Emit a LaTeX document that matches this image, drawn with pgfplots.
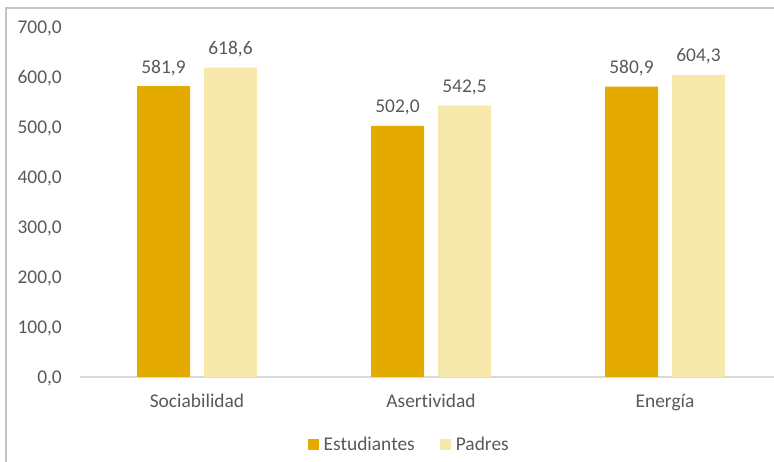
\documentclass[border=0pt]{standalone}
\usepackage{fontspec}
\setmainfont{Carlito}[Ligatures={NoCommon}]
\usepackage{pgfplots}
\pgfplotsset{compat=1.18}
\definecolor{est}{HTML}{E5AA00}
\definecolor{pad}{HTML}{F7E8AB}
\definecolor{txt}{HTML}{595959}
\definecolor{axl}{HTML}{D9D9D9}
\definecolor{frm}{HTML}{C4C4C4}
\newcommand{\lblfont}{\fontsize{19.5}{22}\selectfont}
\begin{document}
\begin{tikzpicture}[x=1bp,y=1bp]
\begin{axis}[
  at={(80bp,85bp)}, anchor=south west,
  scale only axis, width=702bp, height=350bp,
  xmin=-0.5, xmax=2.5, ymin=0, ymax=700,
  axis x line*=bottom, axis y line*=left,
  x axis line style={draw=axl, line width=1.2bp, -},
  y axis line style={draw=none},
  ytick={0,100,...,700}, xtick={0,1,2},
  xticklabels={Sociabilidad,Asertividad,Energía},
  major tick length=0pt,
  /pgf/number format/assume math mode=true,
  yticklabel={\pgfmathprintnumber[fixed,zerofill,precision=1,use comma]{\tick}},
  yticklabel style={font=\lblfont, text=txt, anchor=base east, inner sep=0pt, xshift=-18bp, yshift=-6.2bp},
  xticklabel style={font=\lblfont, text=txt, anchor=base, inner sep=0pt, yshift=-31bp},
  ybar, bar width=53bp,
  nodes near coords={\pgfmathprintnumber[fixed,zerofill,precision=1,use comma,assume math mode=true]{\pgfplotspointmeta}},
  every node near coord/.append style={font=\lblfont, text=txt, anchor=base, inner sep=0pt, yshift=13bp},
  legend columns=2,
  legend style={draw=none, fill=none, at={(0.469,-0.194)}, anchor=center, font=\lblfont, text=txt, inner sep=0pt,
    /tikz/every odd column/.append style={column sep=3bp},
    /tikz/every even column/.append style={column sep=23bp}},
  legend image code/.code={\fill[#1] (0bp,-5.5bp) rectangle (11bp,5.5bp);},
]
\addplot[fill=est, draw=none, bar shift=-33.5bp] coordinates {(0,581.9) (1,502.0) (2,580.9)};
\addplot[fill=pad, draw=none, bar shift=33.5bp] coordinates {(0,618.6) (1,542.5) (2,604.3)};
\legend{Estudiantes, Padres}
\end{axis}
\draw[frm, line width=1.3bp] (6,-10) -- (6,454) -- (790,454);
\pgfresetboundingbox
\useasboundingbox (0,0) rectangle (774,462);
\end{tikzpicture}
\end{document}
